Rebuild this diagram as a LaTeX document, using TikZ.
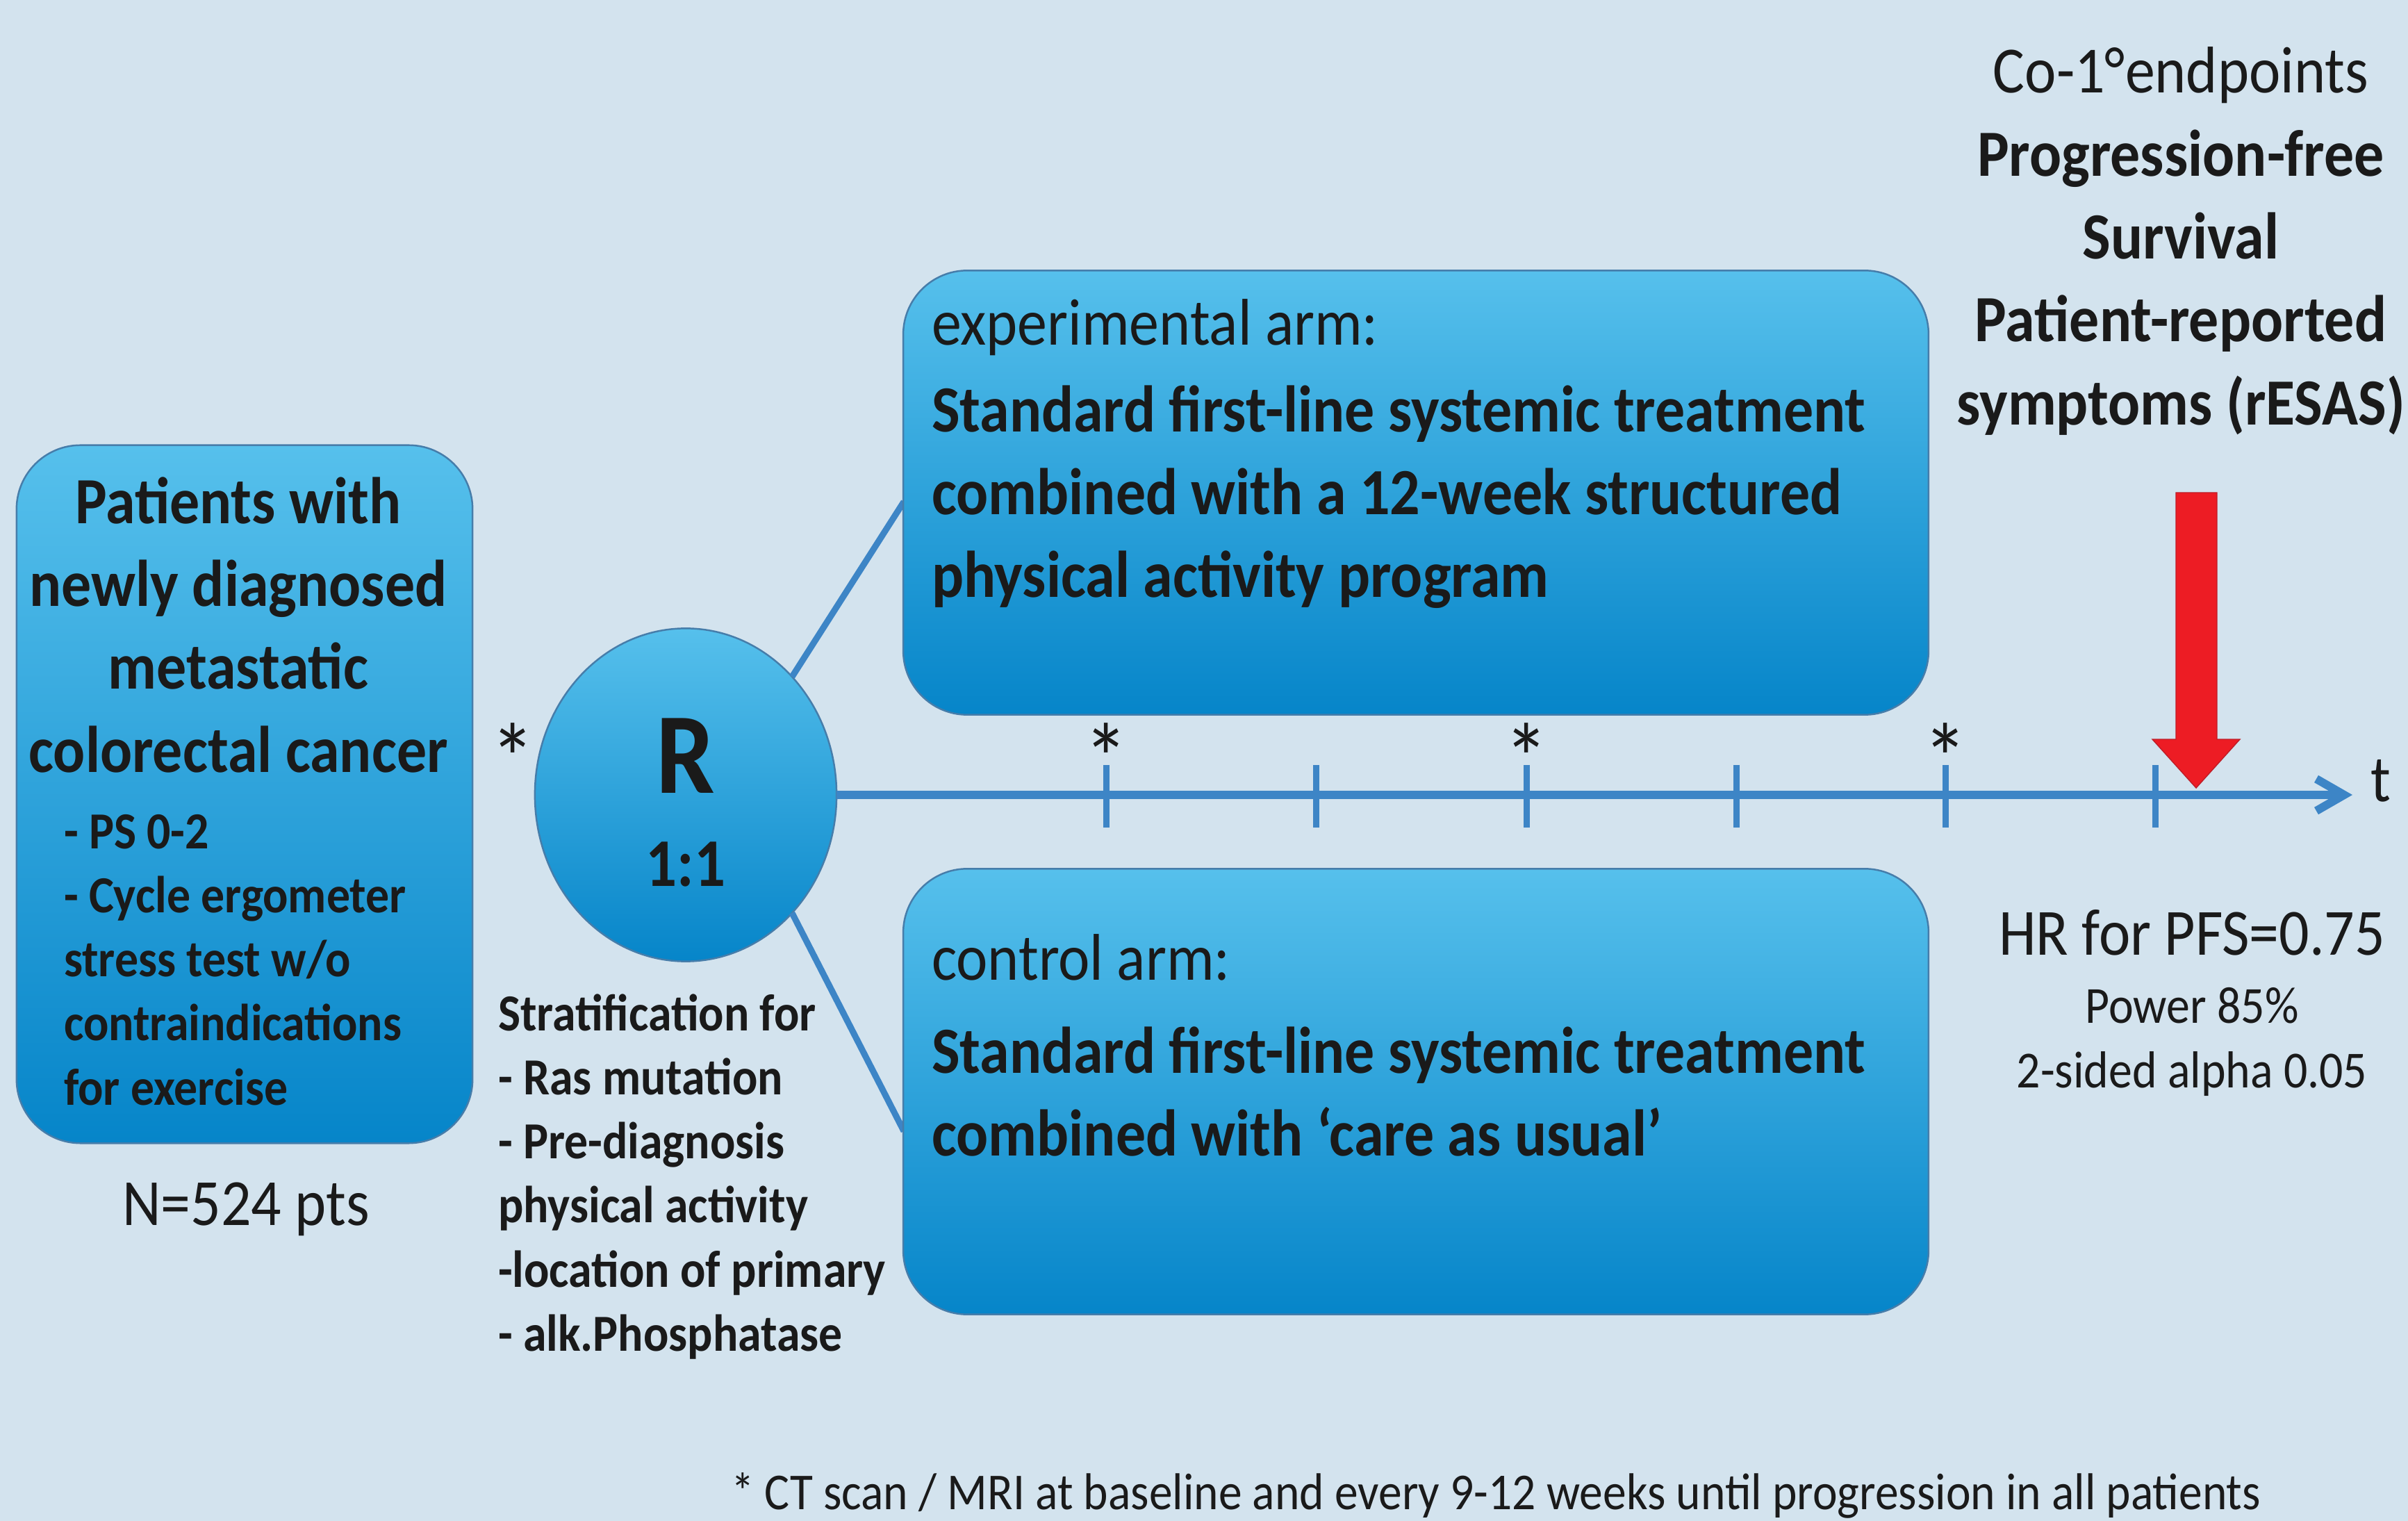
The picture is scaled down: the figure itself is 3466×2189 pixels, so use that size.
\documentclass[tikz,border=0pt]{standalone}
\usepackage{fontspec}
\setmainfont{Carlito}[FakeStretch=0.905]
\usetikzlibrary{shapes.geometric,arrows.meta}
\definecolor{bgc}{RGB}{211,227,238}
\definecolor{boxtop}{RGB}{86,192,236}
\definecolor{boxbot}{RGB}{6,133,201}
\definecolor{boxedge}{RGB}{70,125,170}
\definecolor{linec}{RGB}{61,133,198}
\definecolor{txt}{RGB}{26,26,26}
\definecolor{redarr}{RGB}{237,28,36}
\definecolor{rededge}{RGB}{190,30,40}
\begin{document}
\begin{tikzpicture}[x=0.01cm,y=-0.01cm,
  every node/.style={inner sep=0pt,outer sep=0pt,text=txt},
  bluebox/.style={rectangle,draw=boxedge,line width=0.7pt,rounded corners=0.92cm,top color=boxtop,bottom color=boxbot},
  bigreg/.style={font=\fontsize{27pt}{33.9pt}\selectfont},
  bigbf/.style={font=\fontsize{27pt}{33.9pt}\selectfont\bfseries},
  smallbf/.style={font=\fontsize{21.3pt}{26.2pt}\selectfont\bfseries},
  smallreg/.style={font=\fontsize{21.3pt}{26.4pt}\selectfont},
  astx/.style={font=\fontsize{40pt}{48pt}\selectfont,anchor=base},
  conn/.style={draw=linec,line width=2.56pt},
  tline/.style={draw=linec,line width=3.4pt},
  tickmark/.style={draw=linec,line width=2.56pt}]
% background and frame
\fill[bgc] (0,0) rectangle (3466,2189);
\useasboundingbox (0,0) rectangle (3466,2189);
% randomisation circle
\node[ellipse,draw=boxedge,line width=0.7pt,top color=boxtop,bottom color=boxbot,
      minimum width=4.34cm,minimum height=4.79cm] (R) at (987,1144) {};
% connectors
\coordinate (eup) at (1301,722);
\coordinate (elo) at (1301,1628);
\coordinate (tend) at (3386,1144);
\draw[conn] (R.48) -- (eup);
\draw[conn] (R.-48) -- (elo);
\draw[tline,-{Straight Barb[length=0.4cm,width=0.46cm]}] (R.east) -- (tend);
\foreach \xx in {1592,1894,2197,2499,2800,3102}
  \draw[tickmark] (\xx,1101) -- (\xx,1191);
% boxes
\node[bluebox,minimum width=6.56cm,minimum height=10.04cm] (pat) at (352,1143) {};
\node[bluebox,minimum width=14.75cm,minimum height=6.39cm] (exp) at (2038,709) {};
\node[bluebox,minimum width=14.75cm,minimum height=6.41cm] (ctl) at (2038,1571) {};
% left box text
\node[bigbf,align=center,anchor=north] (pattitle) at (343,670)
  {\strut Patients with\\newly diagnosed\\metastatic\\colorectal cancer};
\node[smallbf,align=left,anchor=north west] (patcrit) at (92,1157)
  {\strut - PS 0-2\\- Cycle ergometer\\stress test w/o\\contraindications\\for exercise};
\node[bigreg,anchor=base] (npts) at (354,1763) {N=524 pts};
% circle text
\node[font=\fontsize{47.2pt}{56pt}\selectfont\bfseries,anchor=base] (Rlab) at (987,1142) {R};
\node[font=\fontsize{27.9pt}{33pt}\selectfont\bfseries,anchor=base] (ratio) at (987,1276) {1:1};
\node[astx] (s0) at (738,1141) {*};
% stratification
\node[smallbf,align=left,anchor=north west] (strat) at (717,1419)
  {\strut Stratification for\\- Ras mutation\\- Pre-diagnosis\\physical activity\\-location of primary\\- alk.Phosphatase};
% arm texts
\node[bigreg,anchor=base west] (exptitle) at (1341,497) {experimental arm:};
\node[bigbf,align=left,anchor=north west] (exptext) at (1341,538)
  {\strut Standard first-line systemic treatment\\combined with a 12-week structured\\physical activity program};
\node[bigreg,anchor=base west] (ctltitle) at (1341,1410) {control arm:};
\node[bigbf,align=left,anchor=north west] (ctltext) at (1341,1461)
  {\strut Standard first-line systemic treatment\\combined with ‘care as usual’};
% timeline stars and label
\node[astx] (s1) at (1592,1141) {*};
\node[astx] (s2) at (2197,1141) {*};
\node[astx] (s3) at (2800,1141) {*};
\node[bigreg,anchor=base] (tlab) at (3427,1154) {t};
% endpoints
\node[bigreg,anchor=base] (endtitle) at (3139,134) {Co-1°endpoints};
\node[bigbf,align=center,anchor=north] (endtext) at (3139,170)
  {\strut Progression-free\\Survival\\Patient-reported\\symptoms (rESAS)};
\filldraw[fill=redarr,draw=rededge,line width=0.4pt]
  (3132,709) -- (3191,709) -- (3191,1064) -- (3224,1064) -- (3161,1134)
  -- (3098,1064) -- (3132,1064) -- cycle;
\node[bigreg,anchor=base] (hr) at (3155,1375) {HR for PFS=0.75};
\node[smallreg,align=center,anchor=north] (hrsub) at (3155,1408)
  {\strut Power 85\%\\2-sided alpha 0.05};
% footnote
\node[font=\fontsize{21.2pt}{26pt}\selectfont,anchor=base west] (foot) at (1052,2172)
  {* CT scan / MRI at baseline and every 9-12 weeks until progression in all patients};
\end{tikzpicture}
\end{document}
